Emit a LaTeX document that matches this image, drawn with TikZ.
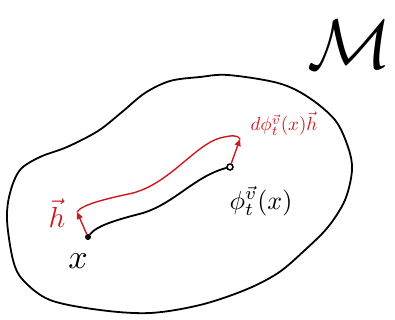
\documentclass[tikz,border=0pt]{standalone}
\usetikzlibrary{arrows.meta}
\definecolor{handred}{RGB}{205,25,30}
\begin{document}
\begin{tikzpicture}[x=1pt,y=-1pt,
  blackline/.style={line width=1.8pt,black,line cap=round,line join=round},
  redline/.style={line width=1.4pt,handred,line cap=round,line join=round},
  redarrow/.style={redline,-{Triangle[length=7pt,width=6pt]}},
  dotfill/.style={circle,fill=black,inner sep=0pt,minimum size=6pt},
  dotopen/.style={circle,draw=black,line width=1.5pt,fill=white,inner sep=0pt,minimum size=6pt},
  lbl/.style={inner sep=0pt}]
\useasboundingbox (0,0) rectangle (395,320);
% manifold outline
\draw[blackline] plot[smooth cycle,tension=0.55] coordinates {
  (200,77) (228,75) (278,83) (308,97) (335,120) (348,147) (352,170)
  (345,200) (328,227) (305,250) (278,273) (245,290) (200,305)
  (150,313) (100,310) (50,300) (23,280) (13,260) (7,220) (10,193)
  (20,170) (40,157) (67,147) (98,131) (122,112) (145,93) (170,81)};
% points
\node[dotfill] (x0) at (88,237) {};
\node[dotopen] (px) at (230,167) {};
\coordinate (hx) at (77,212);
\coordinate (hp) at (240,139);
% flow curve
\draw[blackline] (x0) .. controls (97,225) and (120,219) .. (143,213)
  .. controls (175,203) and (195,176) .. (px);
% tangent vectors
\draw[redarrow] (x0) -- (hx);
\draw[redarrow] (px) -- (hp);
% transported curve
\draw[redline] (hx) .. controls (82,204) and (110,198) .. (133,193)
  .. controls (170,183) and (195,145) .. (220,138) .. controls (232,135) and (238,135) .. (hp);
% labels
\node[lbl,scale=3.4] (lx) at (78,261) {$x$};
\node[lbl,scale=2.6] (lphi) at (261,201) {$\phi_t^{\vec v}(x)$};
\node[lbl,text=handred,scale=2.9] (lh) at (57,213) {$\vec h$};
\node[lbl,text=handred,scale=1.9] (ldphi) at (284,124) {$d\phi_t^{\vec v}(x)\vec h$};
\node[lbl,scale=7] (lM) at (350,45) {$\mathcal{M}$};
\end{tikzpicture}
\end{document}
